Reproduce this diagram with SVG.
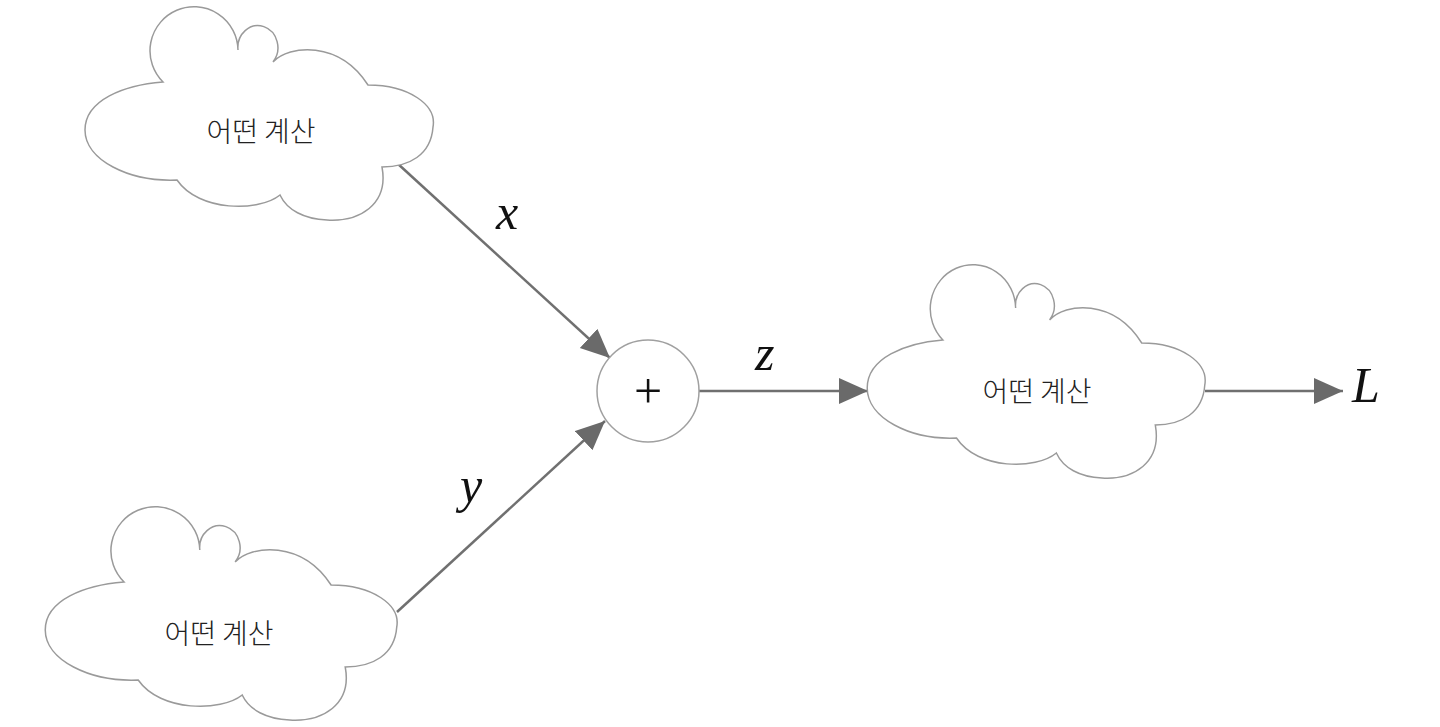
<svg xmlns="http://www.w3.org/2000/svg" width="1440" height="727" viewBox="0 0 1440 727">
<style>
.cloud{fill:#fff;stroke:#9a9a9a;stroke-width:1.5}
.lbl{font-family:"Noto Sans CJK KR","Noto Sans",sans-serif;font-size:28px;font-weight:300;fill:#222;text-anchor:middle;dominant-baseline:central}
.conn{stroke:#707070;stroke-width:2.5;fill:none}
.math{font-family:"Liberation Serif",serif;font-style:italic;font-size:50px;fill:#111}
</style>
<defs>
<marker id="ah" markerUnits="userSpaceOnUse" markerWidth="30" markerHeight="28" refX="29" refY="13" orient="auto">
<path d="M0,0 L29,13 L0,26 Z" fill="#6a6a6a"/>
</marker>
<path id="cloudshape" d="M-174,0 C-174,-30 -135,-45 -96,-48 A44 44 0 1 1 -21,-80 A20 22 0 1 1 14,-68 C30,-85 80,-90 109,-45 C150,-45 178,-25 174,-3 C172,25 150,37 123,37 C130,75 100,92 68,90 C45,89 28,80 21,65 C0,82 -60,82 -82,50 C-130,52 -174,30 -174,0 Z"/>
</defs>
<rect width="1440" height="727" fill="#fff"/>
<g id="connectors">
<line class="conn" x1="397" y1="163" x2="610" y2="358" marker-end="url(#ah)"/>
<line class="conn" x1="397" y1="612" x2="605" y2="421" marker-end="url(#ah)"/>
<line class="conn" x1="699" y1="391" x2="868" y2="391" marker-end="url(#ah)"/>
<line class="conn" x1="1205" y1="391" x2="1343" y2="391" marker-end="url(#ah)"/>
</g>
<g id="cloud-top">
<use href="#cloudshape" class="cloud" transform="translate(259,130)"/>
<text class="lbl" x="261" y="130">어떤 계산</text>
</g>
<g id="cloud-bottom">
<use href="#cloudshape" class="cloud" transform="translate(221,630) scale(1.01,1)"/>
<text class="lbl" x="219" y="632">어떤 계산</text>
</g>
<g id="cloud-right">
<use href="#cloudshape" class="cloud" transform="translate(1036,388) scale(0.97,1)"/>
<text class="lbl" x="1037" y="390">어떤 계산</text>
</g>
<g id="plus-node">
<circle cx="648" cy="391" r="51" fill="#fff" stroke="#a0a0a0" stroke-width="1.5"/>
<text x="648" y="391" font-family="Liberation Serif,serif" font-size="50" fill="#111" text-anchor="middle" dominant-baseline="central">+</text>
</g>
<g id="labels">
<text class="math" x="496" y="229">x</text>
<text class="math" x="460" y="502">y</text>
<text class="math" x="755" y="370">z</text>
<text class="math" x="1352" y="402">L</text>
</g>
</svg>
